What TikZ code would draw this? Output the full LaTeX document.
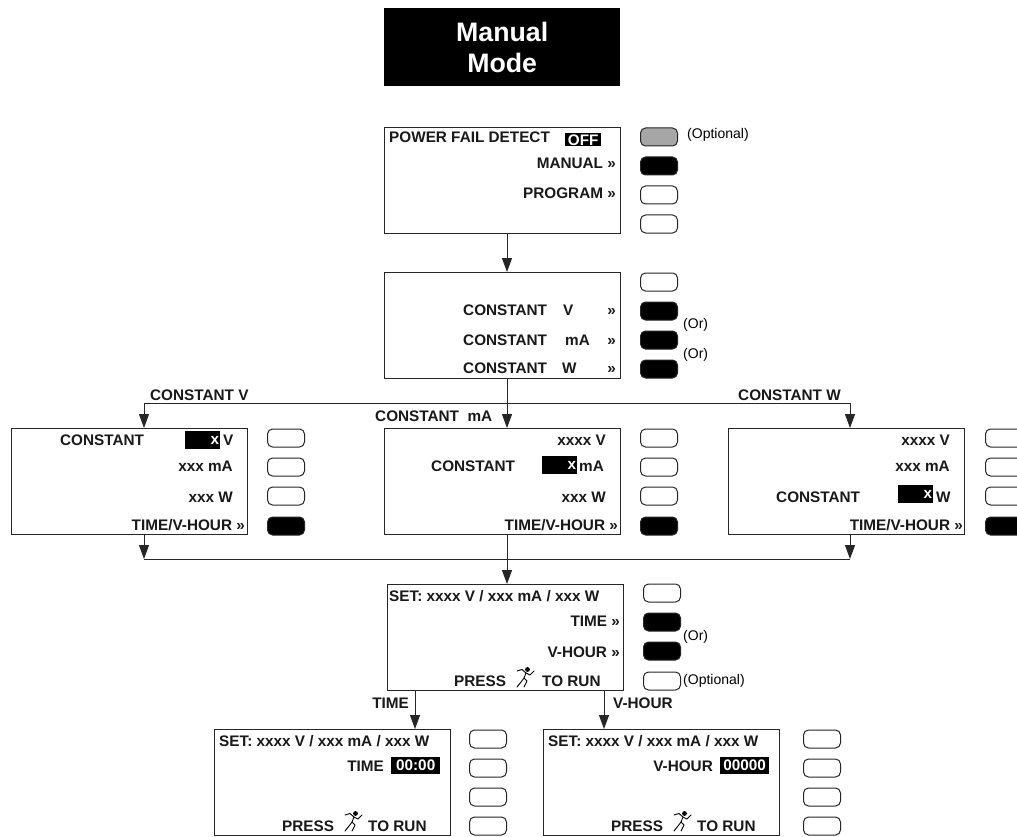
\documentclass[tikz,border=0pt]{standalone}
\usepackage{fontspec}
\setmainfont{Liberation Sans}
\usetikzlibrary{arrows.meta}
\tikzset{
  lcdbox/.style={draw=black!85, line width=1pt, anchor=north west, minimum width=236pt, minimum height=106pt, inner sep=0pt},
  lbl/.style={font=\fontsize{15.3}{18}\selectfont\bfseries, inner sep=0pt, text=black!90},
  note/.style={font=\fontsize{14}{16}\selectfont, inner sep=0pt, anchor=west},
  hilite/.style={lbl, fill=black, text=white, inner sep=0pt, minimum height=18pt},
  btn/.style={draw=black!85, line width=1pt, rounded corners=5pt, minimum width=37pt, minimum height=18pt, inner sep=0pt},
  btnon/.style={btn, fill=black},
  btnopt/.style={btn, fill=black!35},
  flow/.style={draw=black!85, line width=1pt},
  flowto/.style={flow, -{Triangle[length=14pt,width=10pt]}},
  runner/.pic={
    \fill (2.5,-7.5) circle (2.4);
    \draw[line width=0.9pt, line cap=round, line join=round]
      (-8,-6) -- (-3,-7.5) -- (1,-4) -- (-1,1) -- (2,4) -- (-1,10);
    \draw[line width=0.9pt, line cap=round, line join=round]
      (-1,1) -- (-4,5) -- (-8,10);
    \draw[line width=0.9pt, line cap=round, line join=round]
      (1,-4) -- (5,-2) -- (9,-6);
  }
}
\begin{document}
\begin{tikzpicture}[x=1pt, y=-1pt]
  \clip (0,0) rectangle (1017,837);
  \fill[white] (0,0) rectangle (1017,837);
  % title
  \node[fill=black, text=white, anchor=north west, minimum width=236pt, minimum height=78pt, align=center,
    font=\fontsize{26.7}{31}\selectfont\bfseries, inner sep=0pt] (title) at (384,8) {Manual\\Mode};

  % screens
  \node[lcdbox] (modemenu) at (384,127) {};
  \node[lcdbox] (constmenu) at (384,272) {};
  \node[lcdbox] (voltscr) at (11,428) {};
  \node[lcdbox] (ampscr) at (384,428) {};
  \node[lcdbox] (wattscr) at (728,428) {};
  \node[lcdbox] (setscr) at (387,584) {};
  \node[lcdbox] (timescr) at (214,729) {};
  \node[lcdbox] (vhourscr) at (543,729) {};

  % soft keys
  \node[btnopt] (key1) at (659,137) {};
  \node[btnon] (key2) at (659,166) {};
  \foreach \n/\x/\y in {3/659/195, 4/659/224, 5/659/282, 9/286/438, 10/286/467, 11/286/496,
    13/659/438, 14/659/467, 15/659/496, 17/1004/438, 18/1004/467, 19/1004/496, 21/662/593,
    25/488/739, 26/488/768, 27/488/797, 28/488/826, 29/822/739, 30/822/768, 31/822/797, 32/822/826}
    \node[btn] (key\n) at (\x,\y) {};
  \foreach \n/\x/\y in {6/659/311, 7/659/340, 8/659/369, 12/286/526, 16/659/526, 20/1004/526, 22/662/622, 23/662/651}
    \node[btnon] (key\n) at (\x,\y) {};
  \node[btn] (key24) at (662,681) {};

  \node[note] (optnote) at (687,135) {(Optional)};
  \node[note] (ornote1) at (683,325) {(Or)};
  \node[note] (ornote2) at (683,355) {(Or)};
  \node[note] (ornote3) at (683,637) {(Or)};
  \node[note] (optnote2) at (683,681) {(Optional)};

  % text of first screens
  \node[lbl, anchor=base west] (pfd) at (389,143) {POWER FAIL DETECT};
  \node[hilite, anchor=west, minimum width=36pt, minimum height=13pt] (pfdoff) at (565,140) {OFF};
  \node[lbl, anchor=base east] (manual) at (616,169) {MANUAL >>};
  \node[lbl, anchor=base east] (program) at (616,199) {PROGRAM >>};
  \node[lbl, anchor=base west] (cv) at (463,315) {CONSTANT};
  \node[lbl, anchor=base west] (cvu) at (563,315) {V};
  \node[lbl, anchor=base east] (cvgo) at (616,315) {>>};
  \node[lbl, anchor=base west] (ca) at (463,345) {CONSTANT};
  \node[lbl, anchor=base west] (cau) at (565,345) {mA};
  \node[lbl, anchor=base east] (cago) at (616,345) {>>};
  \node[lbl, anchor=base west] (cw) at (463,373) {CONSTANT};
  \node[lbl, anchor=base west] (cwu) at (562,373) {W};
  \node[lbl, anchor=base east] (cwgo) at (616,373) {>>};

  % constant V screen
  \node[lbl, anchor=base west] (vlab) at (60,445) {CONSTANT};
  \node[hilite, anchor=west, minimum width=35pt, text width=33pt, align=right] (vset) at (185,440) {x};
  \node[lbl, anchor=base west] (vunit) at (223,445) {V};
  \node[lbl, anchor=base east] (vma) at (233,471) {xxx mA};
  \node[lbl, anchor=base east] (vw) at (233,502) {xxx W};
  \node[lbl, anchor=base east] (vgo) at (245,530) {TIME/V-HOUR >>};

  % constant mA screen
  \node[lbl, anchor=base east] (av) at (606,445) {xxxx V};
  \node[lbl, anchor=base west] (alab) at (431,471) {CONSTANT};
  \node[hilite, anchor=west, minimum width=35pt, text width=33pt, align=right] (aset) at (542,465) {x};
  \node[lbl, anchor=base west] (aunit) at (579,471) {mA};
  \node[lbl, anchor=base east] (aw) at (606,502) {xxx W};
  \node[lbl, anchor=base east] (ago) at (618,530) {TIME/V-HOUR >>};

  % constant W screen
  \node[lbl, anchor=base east] (wv) at (950,445) {xxxx V};
  \node[lbl, anchor=base east] (wma) at (950,471) {xxx mA};
  \node[lbl, anchor=base west] (wlab) at (776,502) {CONSTANT};
  \node[hilite, anchor=west, minimum width=35pt, text width=33pt, align=right] (wset) at (898,494) {x};
  \node[lbl, anchor=base west] (wunit) at (936,502) {W};
  \node[lbl, anchor=base east] (wgo) at (963,530) {TIME/V-HOUR >>};

  % set screen
  \node[lbl, anchor=base west] (setv) at (389,601) {SET: xxxx V / xxx mA / xxx W};
  \node[lbl, anchor=base east] (timego) at (620,626) {TIME >>};
  \node[lbl, anchor=base east] (vhgo) at (620,657) {V-HOUR >>};
  \node[lbl, anchor=base west] (press) at (454,686) {PRESS};
  \pic at (525,677) {runner};
  \node[lbl, anchor=base west] (torun) at (542,686) {TO RUN};

  % time screen
  \node[lbl, anchor=base west] (sett) at (219,746) {SET: xxxx V / xxx mA / xxx W};
  \node[lbl, anchor=base east] (timelab) at (384,771) {TIME};
  \node[hilite, anchor=west, minimum width=49pt, minimum height=17pt] (timeval) at (391,765) {00:00};
  \node[lbl, anchor=base west] (presst) at (282,831) {PRESS};
  \pic at (353,821) {runner};
  \node[lbl, anchor=base west] (torunt) at (368,831) {TO RUN};

  % v-hour screen
  \node[lbl, anchor=base west] (seth) at (548,746) {SET: xxxx V / xxx mA / xxx W};
  \node[lbl, anchor=base east] (vhlab) at (713,771) {V-HOUR};
  \node[hilite, anchor=west, minimum width=49pt, minimum height=17pt] (vhval) at (720,765) {00000};
  \node[lbl, anchor=base west] (pressh) at (611,831) {PRESS};
  \pic at (682,821) {runner};
  \node[lbl, anchor=base west] (torunh) at (697,831) {TO RUN};

  % branches
  \coordinate (trunk) at (507,403);
  \coordinate (vdrop) at (144,403);
  \coordinate (wdrop) at (850,403);
  \coordinate (vjoin) at (144,559);
  \coordinate (wjoin) at (850,559);
  \coordinate (tdrop) at (415,690);
  \coordinate (hdrop) at (604,690);

  \draw[flowto] (modemenu.south -| trunk) -- (constmenu.north -| trunk);
  \draw[flowto] (constmenu.south -| trunk) -- (ampscr.north -| trunk);
  \draw[flow] (vdrop) -- (wdrop);
  \draw[flowto] (vdrop) -- (voltscr.north -| vdrop);
  \draw[flowto] (wdrop) -- (wattscr.north -| wdrop);
  \draw[flowto] (voltscr.south -| vjoin) -- (vjoin);
  \draw[flowto] (wattscr.south -| wjoin) -- (wjoin);
  \draw[flow] (vjoin) -- (wjoin);
  \draw[flowto] (ampscr.south -| trunk) -- (setscr.north -| trunk);
  \draw[flowto] (tdrop) -- (timescr.north -| tdrop);
  \draw[flowto] (hdrop) -- (vhourscr.north -| hdrop);

  \node[lbl, anchor=base west] (brv) at (150,400) {CONSTANT V};
  \node[lbl, anchor=base west] (bra) at (375,421) {CONSTANT\ \ mA};
  \node[lbl, anchor=base west] (brw) at (738,400) {CONSTANT W};
  \node[lbl, anchor=base east] (brt) at (409,708) {TIME};
  \node[lbl, anchor=base west] (brh) at (613,708) {V-HOUR};
\end{tikzpicture}
\end{document}
